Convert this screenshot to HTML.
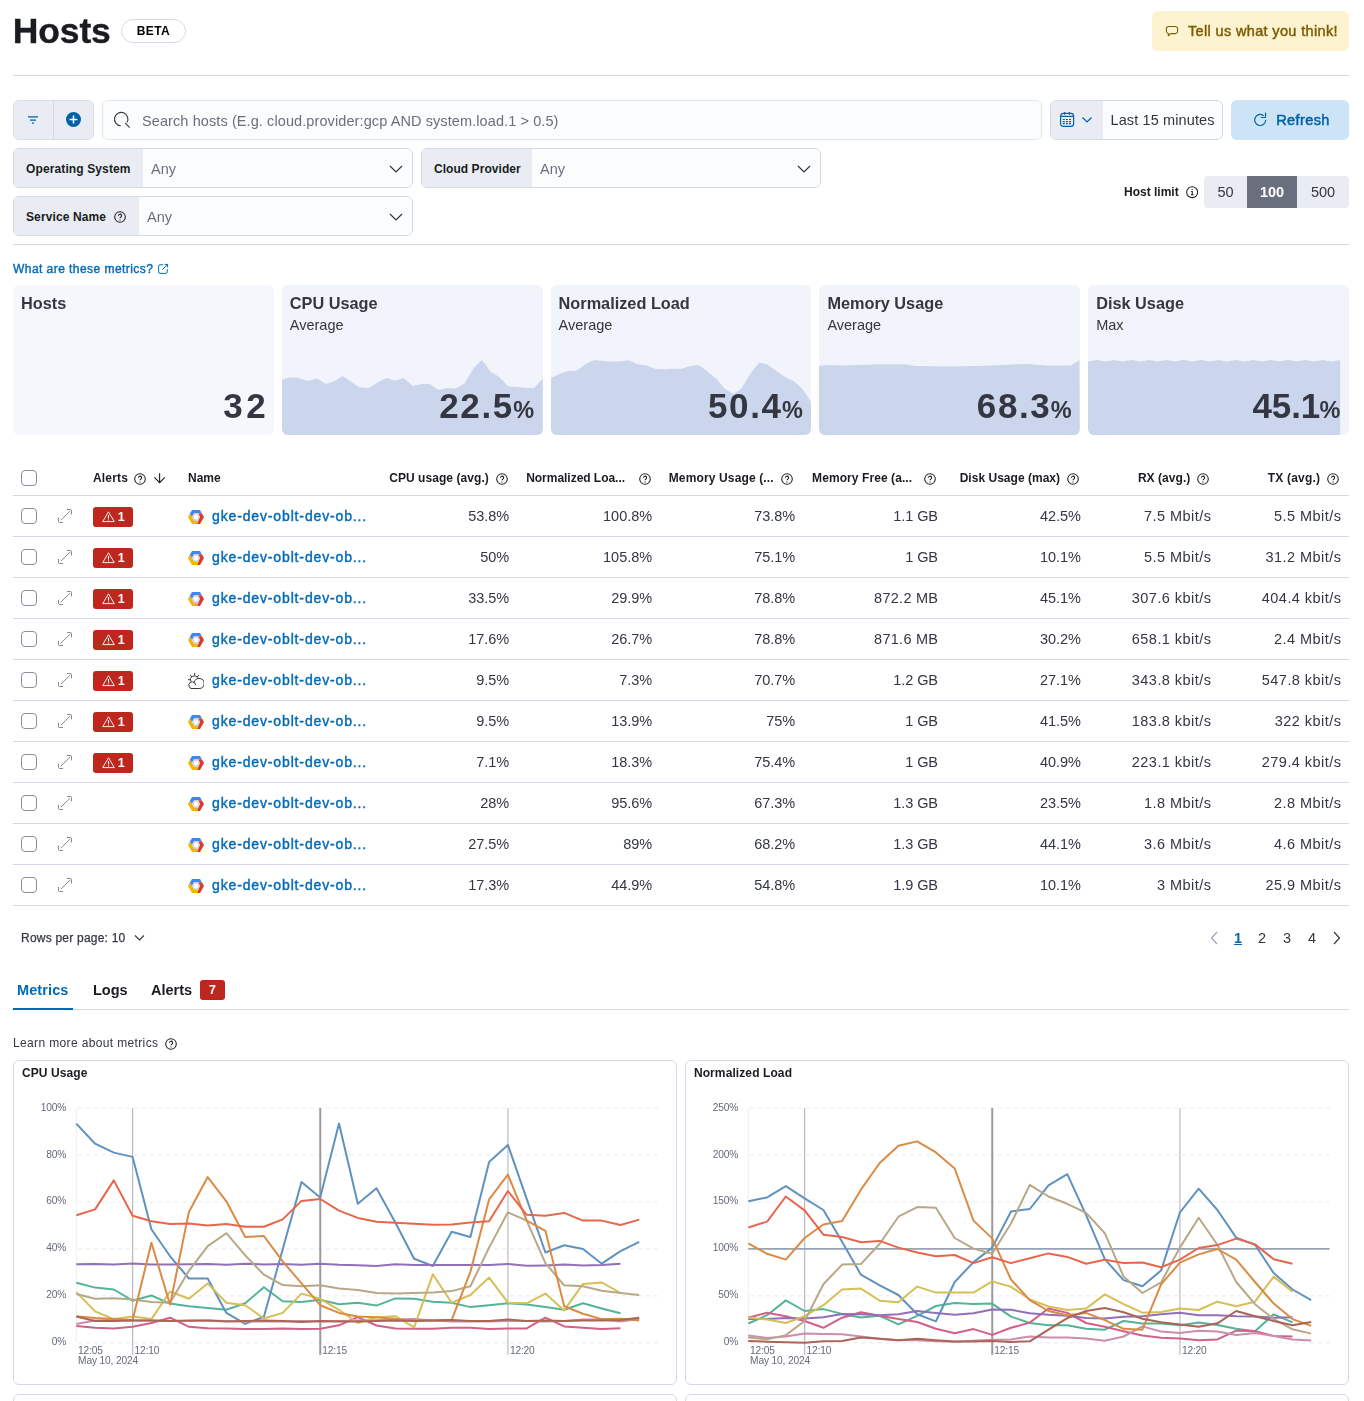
<!DOCTYPE html>
<html lang="en">
<head>
<meta charset="utf-8">
<title>Hosts</title>
<style>
*{box-sizing:border-box;margin:0;padding:0}
html,body{width:1364px;height:1401px;overflow:hidden;background:#fff}
body{font-family:"Liberation Sans",sans-serif;color:#343741;font-size:14px;position:relative}
.abs{position:absolute}
.b{font-weight:700}
svg{display:block}
.hr{position:absolute;left:13px;width:1336px;height:1px;background:#d3dae6}
/* header */
#title{left:12.8px;top:8px;font-size:35.5px;font-weight:700;color:#1a1c21;-webkit-text-stroke:.35px #1a1c21;line-height:46px;letter-spacing:-.15px}
#beta{left:121px;top:19px;width:65px;height:24px;border:1px solid #d3dae6;border-radius:12px;font-size:12px;font-weight:700;color:#000;text-align:center;line-height:22px;letter-spacing:.4px}
#feedback{left:1152px;top:11px;width:197px;height:40px;border-radius:6px;background:#fef3d0;color:#7a5d00;font-size:14.5px;font-weight:400;-webkit-text-stroke:.45px #7a5d00;letter-spacing:.35px;line-height:40px}
/* search row */
.ctl{position:absolute;height:40px;border-radius:6px}
#filt{left:13px;top:100px;width:81px;background:#e9edf3;border:1px solid #d9dfea}
#filt i{position:absolute;left:39px;top:0;width:1px;height:38px;background:#d3dae6}
#search{left:102px;top:100px;width:939.5px;background:#fbfcfd;border:1px solid #dfe4ee;color:#69707d;font-size:14.5px;line-height:40px;letter-spacing:.095px}
#date{left:1050px;top:100px;width:172.5px;background:#fbfcfd;border:1px solid #d3dae6;overflow:hidden}
#date .q{position:absolute;left:0;top:0;width:52px;height:38px;background:#e9edf3}
#date .t{position:absolute;left:59.5px;top:0;line-height:38px;font-size:14.5px;color:#343741;white-space:nowrap;letter-spacing:.12px}
#refresh{left:1231px;top:100px;width:118px;background:#cce4f5;color:#0061a6;font-size:14.5px;font-weight:400;-webkit-text-stroke:.5px #0061a6;letter-spacing:.4px;line-height:40px}
/* controls */
.sel{position:absolute;height:40px;border:1px solid #d3dae6;border-radius:6px;background:#fbfcfd;overflow:hidden}
.sel .l{position:absolute;left:0;top:0;height:38px;background:#e9edf3;font-size:12px;font-weight:700;color:#1a1c21;line-height:40px;padding-left:12px;white-space:nowrap;letter-spacing:.12px}
.sel .v{position:absolute;top:1px;line-height:38px;font-size:14.5px;color:#69707d}
.sel svg{position:absolute;right:9px;top:13px}
/* host limit */
#hl{left:1124px;top:184px;font-size:12px;font-weight:700;color:#1a1c21;line-height:16px}
#hlg{left:1204px;top:176px;width:145px;height:32px;border-radius:4px;background:#e9edf3;overflow:hidden;font-size:14.5px;line-height:32px;text-align:center;color:#343741}
#hlg div{position:absolute;top:0;height:32px}
/* cards */
.card{position:absolute;top:285px;width:260.8px;height:150px;border-radius:6px;background:#f1f4fa;overflow:hidden}
.card .ti{position:absolute;left:8px;top:7.6px;font-size:16.3px;font-weight:700;color:#343741;line-height:20px;white-space:nowrap}
.card .st{position:absolute;left:8px;top:31px;font-size:14.5px;color:#343741;line-height:18px}
.card .val{position:absolute;right:8.5px;top:100.8px;font-size:35px;font-weight:700;color:#343741;line-height:40px;white-space:nowrap;letter-spacing:1.6px}
.card .val small{font-size:23.5px;letter-spacing:0;margin-left:-.6px}
.card svg{position:absolute;left:0;top:0}
</style>
</head>
<body><div id="wrap" style="opacity:.999;position:absolute;left:0;top:0;width:1364px;height:1401px">
<div id="title" class="abs">Hosts</div>
<div id="beta" class="abs">BETA</div>
<div id="feedback" class="abs">
<svg class="abs" style="left:13.2px;top:13px" width="14" height="14" viewBox="0 0 16 16" fill="none" stroke="#7a5d00" stroke-width="1.25" stroke-linejoin="round"><path d="M4.2 2.8h7.6a2.6 2.6 0 0 1 2.6 2.6v3a2.6 2.6 0 0 1-2.6 2.6H6.4L3.8 13.4V10.9A2.600 2.600 0 0 1 1.600 8.400v-3A2.600 2.600 0 0 1 4.200 2.800z"/></svg>
<span class="abs" style="left:36px;top:0;white-space:nowrap">Tell us what you think!</span></div>
<div class="hr" style="top:75px"></div>

<div id="filt" class="ctl"><i></i>
<svg class="abs" style="left:13px;top:13.4px" width="12" height="12" viewBox="0 0 12 12" fill="none" stroke="#0061a6" stroke-width="1.25"><path d="M1 2.8h10M3 6h6M4.9 9.2h2.2"/></svg>
<svg class="abs" style="left:52px;top:10.8px" width="15" height="15" viewBox="0 0 15 15"><circle cx="7.5" cy="7.5" r="7.5" fill="#0061a6"/><path d="M7.5 3.6v7.8M3.6 7.5h7.8" stroke="#fff" stroke-width="1.5"/></svg>
</div>
<div id="search" class="ctl">
<svg class="abs" style="left:10px;top:10px" width="18" height="18" viewBox="0 0 18 18" fill="none" stroke="#343741" stroke-width="1.1"><path d="M7.73 14.78A6.7 6.7 0 1 1 14 11.45M12.2 11.85L16.6 16.57"/></svg>
<span class="abs" style="left:39px;top:0;white-space:nowrap">Search hosts (E.g. cloud.provider:gcp AND system.load.1 &gt; 0.5)</span></div>
<div id="date" class="ctl"><div class="q"></div>
<svg class="abs" style="left:8px;top:10px" width="16" height="17" viewBox="0 0 16 17" fill="none" stroke="#0061a6" stroke-width="1.2"><rect x="1.6" y="2.3" width="13" height="13.1" rx="2.6"/><path d="M1.6 5.4h13M5.5 .9v2.9M10.5 .9v2.9"/><path stroke-width="1.1" d="M3.800 8.500h2M6.900 8.500h2M10 8.500h2M3.800 10.600h2M6.900 10.600h2M10 10.600h2M3.800 12.600h2M6.900 12.600h2M10 12.600h2"/></svg>
<svg class="abs" style="left:30px;top:14.600px" width="12" height="8" viewBox="0 0 12 8" fill="none" stroke="#0061a6" stroke-width="1.200"><path d="M1.5 1.5L6 6l4.5-4.5"/></svg>
<div class="t">Last 15 minutes</div></div>
<div id="refresh" class="ctl">
<svg class="abs" style="left:22px;top:12px" width="16" height="16" viewBox="0 0 16 16" fill="none" stroke="#0061a6" stroke-width="1.2"><path d="M10.3 3.45A5.5 5.5 0 1 0 12.63 8.43" stroke-linecap="round"/><path d="M12.55 1.1V4.5a1 1 0 0 1-1 1H8.3" stroke-linecap="round"/></svg>
<span class="abs" style="left:45.2px;top:0">Refresh</span></div>

<div class="sel" style="left:13px;top:148px;width:400px"><div class="l" style="width:129px">Operating System</div><div class="v" style="left:137px">Any</div>
<svg width="14" height="14" viewBox="0 0 14 14" fill="none" stroke="#343741" stroke-width="1.2"><path d="M1 4l6 6 6-6"/></svg></div>
<div class="sel" style="left:421px;top:148px;width:400px"><div class="l" style="width:110px;letter-spacing:.05px">Cloud Provider</div><div class="v" style="left:118px">Any</div>
<svg width="14" height="14" viewBox="0 0 14 14" fill="none" stroke="#343741" stroke-width="1.2"><path d="M1 4l6 6 6-6"/></svg></div>
<div class="sel" style="left:13px;top:196px;width:400px"><div class="l" style="width:125px">Service Name
<svg style="position:absolute;left:99.5px;top:14px;right:auto" width="12" height="12" viewBox="0 0 12 12" fill="none" stroke="#1a1c21" stroke-width="1.050"><circle cx="6" cy="6" r="5.3"/><path d="M4.4 4.8a1.6 1.6 0 1 1 2.3 1.4c-.5.3-.7.6-.7 1.1M6 8.6v.9"/></svg></div><div class="v" style="left:133px">Any</div>
<svg width="14" height="14" viewBox="0 0 14 14" fill="none" stroke="#343741" stroke-width="1.2"><path d="M1 4l6 6 6-6"/></svg></div>

<div id="hl" class="abs">Host limit</div>
<svg class="abs" style="left:1185.7px;top:186.3px" width="12.3" height="12.3" viewBox="0 0 13 13" fill="none" stroke="#1a1c21" stroke-width="1.100"><circle cx="6.5" cy="6.5" r="5.8"/><path d="M6.5 3.2v1.1M5.4 5.8h1.2v3.4M5.2 9.3h2.8" /></svg>
<div id="hlg" class="abs"><div style="left:0;width:43px">50</div><div style="left:43px;width:50px;background:#69707d;color:#fff;font-weight:700">100</div><div style="left:93px;width:52px">500</div></div>
<div class="hr" style="top:244px"></div>

<div class="abs" style="left:13px;top:261px;font-size:12px;font-weight:400;-webkit-text-stroke:.4px #006bb8;letter-spacing:.45px;color:#006bb8;line-height:16px;white-space:nowrap">What are these metrics?</div>
<svg class="abs" style="left:157px;top:263px" width="12" height="12" viewBox="0 0 12 12" fill="none" stroke="#006bb8" stroke-width="1"><path d="M6.2 1.8H3a1.4 1.4 0 0 0-1.4 1.4v5.8A1.4 1.4 0 0 0 3 10.400h5.800a1.4 1.4 0 0 0 1.4-1.4V6"/><path d="M5.400 6.600L10.400 1.600M7.600 1.400h3v3"/></svg>

<div class="card" style="left:13.0px;background:#f5f7fc"><div class="ti">Hosts</div><div class="st"></div><div class="val" style="letter-spacing:3.6px;right:4.4px">32</div></div>
<div class="card" style="left:281.8px"><svg width="261" height="150" viewBox="0 0 261 150"><path d="M0 150 L0.0 94.5 L8.0 92.5 L14.0 92.5 L25.9 96.1 L34.9 93.5 L43.9 98.9 L51.8 96.5 L60.4 91.1 L77.8 102.5 L86.7 102.9 L95.7 97.5 L104.7 92.9 L113.7 95.5 L121.6 92.9 L130.6 100.9 L139.6 98.9 L147.6 98.9 L156.5 104.9 L165.5 102.9 L173.5 103.5 L182.5 98.5 L191.4 83.5 L199.8 75.0 L208.4 86.5 L217.3 92.1 L226.3 101.5 L235.3 102.1 L243.3 103.1 L252.2 102.9 L260.8 93.5 L260.8 150 Z" fill="#cbd5ec"/></svg><div class="ti">CPU Usage</div><div class="st">Average</div><div class="val">22.5<small>%</small></div></div>
<div class="card" style="left:550.6px"><svg width="261" height="150" viewBox="0 0 261 150"><path d="M0 150 L0.0 92.9 L9.0 88.5 L16.9 85.9 L25.9 85.5 L33.9 79.6 L42.9 75.0 L51.8 76.0 L60.8 76.8 L68.8 76.6 L77.8 75.2 L86.7 79.2 L95.7 80.6 L104.7 83.9 L113.7 84.3 L121.6 83.7 L130.6 83.7 L139.6 81.0 L147.6 80.0 L156.5 86.5 L165.5 94.1 L173.5 103.5 L182.5 108.9 L190.4 103.5 L199.4 88.5 L208.4 77.6 L216.4 79.6 L225.3 86.1 L234.3 91.9 L243.3 96.5 L251.2 103.5 L259.8 116.5 L260.8 150 Z" fill="#cbd5ec"/></svg><div class="ti">Normalized Load</div><div class="st">Average</div><div class="val">50.4<small>%</small></div></div>
<div class="card" style="left:819.4px"><svg width="261" height="150" viewBox="0 0 261 150"><path d="M0 150 L0.0 81.0 L8.6 80.0 L24.5 80.6 L60.4 79.2 L86.3 79.2 L96.3 81.0 L130.2 81.4 L166.1 80.8 L194.0 79.4 L210.0 79.0 L225.9 80.6 L251.8 80.6 L260.4 75.0 L260.8 150 Z" fill="#cbd5ec"/></svg><div class="ti">Memory Usage</div><div class="st">Average</div><div class="val">68.3<small>%</small></div></div>
<div class="card" style="left:1088.2px"><svg width="261" height="150" viewBox="0 0 261 150"><path d="M0 150 L0.0 76.6 L8.7 75.0 L17.4 76.6 L26.1 75.0 L34.8 76.6 L43.5 75.0 L52.2 76.6 L60.9 75.0 L69.6 76.6 L78.3 75.0 L87.0 76.6 L95.7 75.0 L104.4 76.6 L113.1 75.0 L121.8 76.6 L130.4 75.0 L139.1 76.6 L147.8 75.0 L156.5 76.6 L165.2 75.0 L173.9 76.6 L182.6 75.0 L191.3 76.6 L200.0 75.0 L208.7 76.6 L217.4 75.0 L226.1 76.6 L234.8 75.0 L243.5 76.6 L252.2 75.0 L252.2 150 Z" fill="#cbd5ec"/></svg><div class="ti">Disk Usage</div><div class="st">Max</div><div class="val" style="letter-spacing:-.1px">45.1<small>%</small></div></div>
<style>.cb{position:absolute;left:21px;width:16px;height:16px;border:1px solid #8a8f9b;border-radius:4px;background:#fff}.th{position:absolute;top:470px;font-size:12px;font-weight:700;color:#1a1c21;line-height:16px;white-space:nowrap}.td{position:absolute;font-size:14.500px;color:#343741;line-height:20px;white-space:nowrap;text-align:right}.nm{position:absolute;left:212px;font-size:14px;font-weight:400;color:#006bb8;-webkit-text-stroke:.42px #006bb8;line-height:20px;white-space:nowrap;letter-spacing:.86px;margin-top:.1px}.alert{left:93px;width:40px;height:20px;border-radius:3px;background:#bd271e;color:#fff}.alert span{position:absolute;left:24.800px;top:0;font-size:12.500px;font-weight:700;line-height:20px}.rl{position:absolute;left:13px;width:1336px;height:1px;background:#d3dae6}</style>
<div class="cb" style="top:470px"></div>
<div class="th" style="left:93px;letter-spacing:.18px">Alerts</div>
<svg class="abs" style="left:134px;top:473px" width="12" height="12" viewBox="0 0 12 12" fill="none" stroke="#1a1c21" stroke-width="1.050"><circle cx="6" cy="6" r="5.300"/><path d="M4.400 4.800a1.600 1.600 0 1 1 2.300 1.400c-.5.300-.7.600-.7 1.100M6 8.600v.900"/></svg>
<svg class="abs" style="left:153px;top:472px" width="13" height="13" viewBox="0 0 13 13" fill="none" stroke="#1a1c21" stroke-width="1.100"><path d="M6.600 1.200v9.400M1.400 5.400l5.200 5.200 5.200-5.200"/></svg>
<div class="th" style="left:188px">Name</div>
<svg class="abs" style="left:495.5px;top:473px" width="12" height="12" viewBox="0 0 12 12" fill="none" stroke="#1a1c21" stroke-width="1.050"><circle cx="6" cy="6" r="5.300"/><path d="M4.400 4.800a1.600 1.600 0 1 1 2.300 1.400c-.5.300-.7.600-.7 1.100M6 8.600v.900"/></svg>
<div class="th" style="left:389.2px;letter-spacing:0.06px">CPU usage (avg.)</div>
<svg class="abs" style="left:638.5px;top:473px" width="12" height="12" viewBox="0 0 12 12" fill="none" stroke="#1a1c21" stroke-width="1.050"><circle cx="6" cy="6" r="5.300"/><path d="M4.400 4.800a1.600 1.600 0 1 1 2.300 1.400c-.5.300-.7.600-.7 1.100M6 8.600v.900"/></svg>
<div class="th" style="left:526.2px;letter-spacing:-0.03px">Normalized Loa...</div>
<svg class="abs" style="left:781.0px;top:473px" width="12" height="12" viewBox="0 0 12 12" fill="none" stroke="#1a1c21" stroke-width="1.050"><circle cx="6" cy="6" r="5.300"/><path d="M4.400 4.800a1.600 1.600 0 1 1 2.300 1.400c-.5.300-.7.600-.7 1.100M6 8.600v.900"/></svg>
<div class="th" style="left:668.7px;letter-spacing:0.14px">Memory Usage (...</div>
<svg class="abs" style="left:923.8px;top:473px" width="12" height="12" viewBox="0 0 12 12" fill="none" stroke="#1a1c21" stroke-width="1.050"><circle cx="6" cy="6" r="5.300"/><path d="M4.400 4.800a1.600 1.600 0 1 1 2.300 1.400c-.5.300-.7.600-.7 1.100M6 8.600v.900"/></svg>
<div class="th" style="left:812.1px;letter-spacing:0.08px">Memory Free (a...</div>
<svg class="abs" style="left:1067.4px;top:473px" width="12" height="12" viewBox="0 0 12 12" fill="none" stroke="#1a1c21" stroke-width="1.050"><circle cx="6" cy="6" r="5.300"/><path d="M4.400 4.800a1.600 1.600 0 1 1 2.300 1.400c-.5.300-.7.600-.7 1.100M6 8.600v.900"/></svg>
<div class="th" style="left:959.7px;letter-spacing:0.02px">Disk Usage (max)</div>
<svg class="abs" style="left:1197.2px;top:473px" width="12" height="12" viewBox="0 0 12 12" fill="none" stroke="#1a1c21" stroke-width="1.050"><circle cx="6" cy="6" r="5.300"/><path d="M4.400 4.800a1.600 1.600 0 1 1 2.300 1.400c-.5.300-.7.600-.7 1.100M6 8.600v.900"/></svg>
<div class="th" style="left:1137.9px;letter-spacing:0.05px">RX (avg.)</div>
<svg class="abs" style="left:1327.0px;top:473px" width="12" height="12" viewBox="0 0 12 12" fill="none" stroke="#1a1c21" stroke-width="1.050"><circle cx="6" cy="6" r="5.300"/><path d="M4.400 4.800a1.600 1.600 0 1 1 2.300 1.400c-.5.300-.7.600-.7 1.100M6 8.600v.900"/></svg>
<div class="th" style="left:1267.7px;letter-spacing:0.20px">TX (avg.)</div>
<div class="rl" style="top:495px"></div>
<div class="cb" style="top:508px"></div>
<svg class="abs" style="left:58px;top:509px" width="14" height="14" viewBox="0 0 14 14" fill="none" stroke="#808389" stroke-width=".95" stroke-linecap="round"><path d="M9.400.500h3.100a1 1 0 0 1 1 1v3.500M11.900 2.300L3 11M.500 9.200v3.300a1 1 0 0 0 1 1h3.100"/></svg>
<div class="abs alert" style="top:507px"><svg class="abs" style="left:8.500px;top:4.200px" width="13" height="11.500" viewBox="0 0 13 11.500" fill="none" stroke="#fff" stroke-width=".9" stroke-linejoin="round"><path d="M6.500.800L12.300 10.600H.700z"/><path d="M6.500 4v3.600M6.500 8.500v1" stroke-width="1.100"/></svg><span>1</span></div>
<svg class="abs" style="left:188px;top:510px" width="16" height="14" viewBox="0 0 16 14"><path d="M1.8 3.8L4 0h8l1.8 3.2-3.4.4H6.2L3.8 7z" fill="#4285f4"/><path d="M13.8 3.2L16 7l-4 7H9l2.8-7-1.4-3.4z" fill="#db3a2c"/><path d="M1.8 3.800L0 7l4 7h5l1-3.400H6.200L3.800 7z" fill="#f5b400"/><path d="M3.900 7l2.100-4.100h4L12.100 7l-2.100 4.100H6z" fill="#cfd2d6"/><circle cx="8" cy="7" r="2.400" fill="#fff"/></svg>
<div class="nm" style="top:506px">gke-dev-oblt-dev-ob...</div>
<div class="td" style="top:506.4px;right:855.0px;letter-spacing:-0.05px">53.8%</div>
<div class="td" style="top:506.4px;right:712.0px;letter-spacing:-0.05px">100.8%</div>
<div class="td" style="top:506.4px;right:569.0px;letter-spacing:-0.05px">73.8%</div>
<div class="td" style="top:506.4px;right:426.1px;letter-spacing:-0.10px">1.1 GB</div>
<div class="td" style="top:506.4px;right:283.1px;letter-spacing:-0.05px">42.5%</div>
<div class="td" style="top:506.4px;right:152.6px;letter-spacing:0.45px">7.5 Mbit/s</div>
<div class="td" style="top:506.4px;right:22.6px;letter-spacing:0.45px">5.5 Mbit/s</div>
<div class="rl" style="top:536px"></div>
<div class="cb" style="top:549px"></div>
<svg class="abs" style="left:58px;top:550px" width="14" height="14" viewBox="0 0 14 14" fill="none" stroke="#808389" stroke-width=".95" stroke-linecap="round"><path d="M9.400.500h3.100a1 1 0 0 1 1 1v3.500M11.900 2.300L3 11M.500 9.200v3.300a1 1 0 0 0 1 1h3.100"/></svg>
<div class="abs alert" style="top:548px"><svg class="abs" style="left:8.500px;top:4.200px" width="13" height="11.500" viewBox="0 0 13 11.500" fill="none" stroke="#fff" stroke-width=".9" stroke-linejoin="round"><path d="M6.500.800L12.300 10.600H.700z"/><path d="M6.500 4v3.600M6.500 8.500v1" stroke-width="1.100"/></svg><span>1</span></div>
<svg class="abs" style="left:188px;top:551px" width="16" height="14" viewBox="0 0 16 14"><path d="M1.8 3.8L4 0h8l1.8 3.2-3.4.4H6.2L3.8 7z" fill="#4285f4"/><path d="M13.8 3.2L16 7l-4 7H9l2.8-7-1.4-3.4z" fill="#db3a2c"/><path d="M1.8 3.800L0 7l4 7h5l1-3.400H6.200L3.800 7z" fill="#f5b400"/><path d="M3.900 7l2.100-4.100h4L12.100 7l-2.100 4.100H6z" fill="#cfd2d6"/><circle cx="8" cy="7" r="2.400" fill="#fff"/></svg>
<div class="nm" style="top:547px">gke-dev-oblt-dev-ob...</div>
<div class="td" style="top:547.4px;right:855.0px;letter-spacing:-0.05px">50%</div>
<div class="td" style="top:547.4px;right:712.0px;letter-spacing:-0.05px">105.8%</div>
<div class="td" style="top:547.4px;right:569.0px;letter-spacing:-0.05px">75.1%</div>
<div class="td" style="top:547.4px;right:426.1px;letter-spacing:-0.10px">1 GB</div>
<div class="td" style="top:547.4px;right:283.1px;letter-spacing:-0.05px">10.1%</div>
<div class="td" style="top:547.4px;right:152.6px;letter-spacing:0.45px">5.5 Mbit/s</div>
<div class="td" style="top:547.4px;right:22.6px;letter-spacing:0.45px">31.2 Mbit/s</div>
<div class="rl" style="top:577px"></div>
<div class="cb" style="top:590px"></div>
<svg class="abs" style="left:58px;top:591px" width="14" height="14" viewBox="0 0 14 14" fill="none" stroke="#808389" stroke-width=".95" stroke-linecap="round"><path d="M9.400.500h3.100a1 1 0 0 1 1 1v3.500M11.900 2.300L3 11M.500 9.200v3.300a1 1 0 0 0 1 1h3.100"/></svg>
<div class="abs alert" style="top:589px"><svg class="abs" style="left:8.500px;top:4.200px" width="13" height="11.500" viewBox="0 0 13 11.500" fill="none" stroke="#fff" stroke-width=".9" stroke-linejoin="round"><path d="M6.500.800L12.300 10.600H.700z"/><path d="M6.500 4v3.600M6.500 8.500v1" stroke-width="1.100"/></svg><span>1</span></div>
<svg class="abs" style="left:188px;top:592px" width="16" height="14" viewBox="0 0 16 14"><path d="M1.8 3.8L4 0h8l1.8 3.2-3.4.4H6.2L3.8 7z" fill="#4285f4"/><path d="M13.8 3.2L16 7l-4 7H9l2.8-7-1.4-3.4z" fill="#db3a2c"/><path d="M1.8 3.800L0 7l4 7h5l1-3.400H6.200L3.800 7z" fill="#f5b400"/><path d="M3.900 7l2.100-4.100h4L12.100 7l-2.100 4.100H6z" fill="#cfd2d6"/><circle cx="8" cy="7" r="2.400" fill="#fff"/></svg>
<div class="nm" style="top:588px">gke-dev-oblt-dev-ob...</div>
<div class="td" style="top:588.4px;right:855.0px;letter-spacing:-0.05px">33.5%</div>
<div class="td" style="top:588.4px;right:712.0px;letter-spacing:-0.05px">29.9%</div>
<div class="td" style="top:588.4px;right:569.0px;letter-spacing:-0.05px">78.8%</div>
<div class="td" style="top:588.4px;right:425.7px;letter-spacing:0.27px">872.2 MB</div>
<div class="td" style="top:588.4px;right:283.1px;letter-spacing:-0.05px">45.1%</div>
<div class="td" style="top:588.4px;right:152.6px;letter-spacing:0.45px">307.6 kbit/s</div>
<div class="td" style="top:588.4px;right:22.6px;letter-spacing:0.45px">404.4 kbit/s</div>
<div class="rl" style="top:618px"></div>
<div class="cb" style="top:631px"></div>
<svg class="abs" style="left:58px;top:632px" width="14" height="14" viewBox="0 0 14 14" fill="none" stroke="#808389" stroke-width=".95" stroke-linecap="round"><path d="M9.400.500h3.100a1 1 0 0 1 1 1v3.500M11.900 2.300L3 11M.500 9.200v3.300a1 1 0 0 0 1 1h3.100"/></svg>
<div class="abs alert" style="top:630px"><svg class="abs" style="left:8.500px;top:4.200px" width="13" height="11.500" viewBox="0 0 13 11.500" fill="none" stroke="#fff" stroke-width=".9" stroke-linejoin="round"><path d="M6.500.800L12.300 10.600H.700z"/><path d="M6.500 4v3.600M6.500 8.500v1" stroke-width="1.100"/></svg><span>1</span></div>
<svg class="abs" style="left:188px;top:633px" width="16" height="14" viewBox="0 0 16 14"><path d="M1.8 3.8L4 0h8l1.8 3.2-3.4.4H6.2L3.8 7z" fill="#4285f4"/><path d="M13.8 3.2L16 7l-4 7H9l2.8-7-1.4-3.4z" fill="#db3a2c"/><path d="M1.8 3.800L0 7l4 7h5l1-3.400H6.200L3.800 7z" fill="#f5b400"/><path d="M3.900 7l2.100-4.100h4L12.100 7l-2.100 4.100H6z" fill="#cfd2d6"/><circle cx="8" cy="7" r="2.400" fill="#fff"/></svg>
<div class="nm" style="top:629px">gke-dev-oblt-dev-ob...</div>
<div class="td" style="top:629.4px;right:855.0px;letter-spacing:-0.05px">17.6%</div>
<div class="td" style="top:629.4px;right:712.0px;letter-spacing:-0.05px">26.7%</div>
<div class="td" style="top:629.4px;right:569.0px;letter-spacing:-0.05px">78.8%</div>
<div class="td" style="top:629.4px;right:425.7px;letter-spacing:0.27px">871.6 MB</div>
<div class="td" style="top:629.4px;right:283.1px;letter-spacing:-0.05px">30.2%</div>
<div class="td" style="top:629.4px;right:152.6px;letter-spacing:0.45px">658.1 kbit/s</div>
<div class="td" style="top:629.4px;right:22.6px;letter-spacing:0.45px">2.4 Mbit/s</div>
<div class="rl" style="top:659px"></div>
<div class="cb" style="top:672px"></div>
<svg class="abs" style="left:58px;top:673px" width="14" height="14" viewBox="0 0 14 14" fill="none" stroke="#808389" stroke-width=".95" stroke-linecap="round"><path d="M9.400.500h3.100a1 1 0 0 1 1 1v3.500M11.900 2.300L3 11M.500 9.200v3.300a1 1 0 0 0 1 1h3.100"/></svg>
<div class="abs alert" style="top:671px"><svg class="abs" style="left:8.500px;top:4.200px" width="13" height="11.500" viewBox="0 0 13 11.500" fill="none" stroke="#fff" stroke-width=".9" stroke-linejoin="round"><path d="M6.500.800L12.300 10.600H.700z"/><path d="M6.500 4v3.600M6.500 8.500v1" stroke-width="1.100"/></svg><span>1</span></div>
<svg class="abs" style="left:188px;top:673px" width="16" height="16" viewBox="0 0 16 16" fill="none" stroke="#343741" stroke-width="1" stroke-linecap="round"><path d="M3.1 15.500h8.100a5.050 5.050 0 1 0-4.950-6.500"/><path d="M3.100 15.500a3.450 3.450 0 1 1 4.500-3.800"/><path d="M2.900 8.300a3.600 3.600 0 0 1 6.900-3.300"/><path d="M6.600.5v1.500M2.400 2.200l1.200 1.500M10.800 2.500L9.400 3.700M.4 6.700h1.900"/></svg>
<div class="nm" style="top:670px">gke-dev-oblt-dev-ob...</div>
<div class="td" style="top:670.4px;right:855.0px;letter-spacing:-0.05px">9.5%</div>
<div class="td" style="top:670.4px;right:712.0px;letter-spacing:-0.05px">7.3%</div>
<div class="td" style="top:670.4px;right:569.0px;letter-spacing:-0.05px">70.7%</div>
<div class="td" style="top:670.4px;right:426.1px;letter-spacing:-0.10px">1.2 GB</div>
<div class="td" style="top:670.4px;right:283.1px;letter-spacing:-0.05px">27.1%</div>
<div class="td" style="top:670.4px;right:152.6px;letter-spacing:0.45px">343.8 kbit/s</div>
<div class="td" style="top:670.4px;right:22.6px;letter-spacing:0.45px">547.8 kbit/s</div>
<div class="rl" style="top:700px"></div>
<div class="cb" style="top:713px"></div>
<svg class="abs" style="left:58px;top:714px" width="14" height="14" viewBox="0 0 14 14" fill="none" stroke="#808389" stroke-width=".95" stroke-linecap="round"><path d="M9.400.500h3.100a1 1 0 0 1 1 1v3.500M11.900 2.300L3 11M.500 9.200v3.300a1 1 0 0 0 1 1h3.100"/></svg>
<div class="abs alert" style="top:712px"><svg class="abs" style="left:8.500px;top:4.200px" width="13" height="11.500" viewBox="0 0 13 11.500" fill="none" stroke="#fff" stroke-width=".9" stroke-linejoin="round"><path d="M6.500.800L12.300 10.600H.700z"/><path d="M6.500 4v3.600M6.500 8.500v1" stroke-width="1.100"/></svg><span>1</span></div>
<svg class="abs" style="left:188px;top:715px" width="16" height="14" viewBox="0 0 16 14"><path d="M1.8 3.8L4 0h8l1.8 3.2-3.4.4H6.2L3.8 7z" fill="#4285f4"/><path d="M13.8 3.2L16 7l-4 7H9l2.8-7-1.4-3.4z" fill="#db3a2c"/><path d="M1.8 3.800L0 7l4 7h5l1-3.400H6.200L3.800 7z" fill="#f5b400"/><path d="M3.900 7l2.100-4.100h4L12.100 7l-2.100 4.100H6z" fill="#cfd2d6"/><circle cx="8" cy="7" r="2.400" fill="#fff"/></svg>
<div class="nm" style="top:711px">gke-dev-oblt-dev-ob...</div>
<div class="td" style="top:711.4px;right:855.0px;letter-spacing:-0.05px">9.5%</div>
<div class="td" style="top:711.4px;right:712.0px;letter-spacing:-0.05px">13.9%</div>
<div class="td" style="top:711.4px;right:569.0px;letter-spacing:-0.05px">75%</div>
<div class="td" style="top:711.4px;right:426.1px;letter-spacing:-0.10px">1 GB</div>
<div class="td" style="top:711.4px;right:283.1px;letter-spacing:-0.05px">41.5%</div>
<div class="td" style="top:711.4px;right:152.6px;letter-spacing:0.45px">183.8 kbit/s</div>
<div class="td" style="top:711.4px;right:22.6px;letter-spacing:0.45px">322 kbit/s</div>
<div class="rl" style="top:741px"></div>
<div class="cb" style="top:754px"></div>
<svg class="abs" style="left:58px;top:755px" width="14" height="14" viewBox="0 0 14 14" fill="none" stroke="#808389" stroke-width=".95" stroke-linecap="round"><path d="M9.400.500h3.100a1 1 0 0 1 1 1v3.500M11.900 2.300L3 11M.500 9.200v3.300a1 1 0 0 0 1 1h3.100"/></svg>
<div class="abs alert" style="top:753px"><svg class="abs" style="left:8.500px;top:4.200px" width="13" height="11.500" viewBox="0 0 13 11.500" fill="none" stroke="#fff" stroke-width=".9" stroke-linejoin="round"><path d="M6.500.800L12.300 10.600H.700z"/><path d="M6.500 4v3.600M6.500 8.500v1" stroke-width="1.100"/></svg><span>1</span></div>
<svg class="abs" style="left:188px;top:756px" width="16" height="14" viewBox="0 0 16 14"><path d="M1.8 3.8L4 0h8l1.8 3.2-3.4.4H6.2L3.8 7z" fill="#4285f4"/><path d="M13.8 3.2L16 7l-4 7H9l2.8-7-1.4-3.4z" fill="#db3a2c"/><path d="M1.8 3.800L0 7l4 7h5l1-3.400H6.200L3.800 7z" fill="#f5b400"/><path d="M3.900 7l2.100-4.100h4L12.100 7l-2.100 4.100H6z" fill="#cfd2d6"/><circle cx="8" cy="7" r="2.400" fill="#fff"/></svg>
<div class="nm" style="top:752px">gke-dev-oblt-dev-ob...</div>
<div class="td" style="top:752.4px;right:855.0px;letter-spacing:-0.05px">7.1%</div>
<div class="td" style="top:752.4px;right:712.0px;letter-spacing:-0.05px">18.3%</div>
<div class="td" style="top:752.4px;right:569.0px;letter-spacing:-0.05px">75.4%</div>
<div class="td" style="top:752.4px;right:426.1px;letter-spacing:-0.10px">1 GB</div>
<div class="td" style="top:752.4px;right:283.1px;letter-spacing:-0.05px">40.9%</div>
<div class="td" style="top:752.4px;right:152.6px;letter-spacing:0.45px">223.1 kbit/s</div>
<div class="td" style="top:752.4px;right:22.6px;letter-spacing:0.45px">279.4 kbit/s</div>
<div class="rl" style="top:782px"></div>
<div class="cb" style="top:795px"></div>
<svg class="abs" style="left:58px;top:796px" width="14" height="14" viewBox="0 0 14 14" fill="none" stroke="#808389" stroke-width=".95" stroke-linecap="round"><path d="M9.400.500h3.100a1 1 0 0 1 1 1v3.500M11.900 2.300L3 11M.500 9.200v3.300a1 1 0 0 0 1 1h3.100"/></svg>
<svg class="abs" style="left:188px;top:797px" width="16" height="14" viewBox="0 0 16 14"><path d="M1.8 3.8L4 0h8l1.8 3.2-3.4.4H6.2L3.8 7z" fill="#4285f4"/><path d="M13.8 3.2L16 7l-4 7H9l2.8-7-1.4-3.4z" fill="#db3a2c"/><path d="M1.8 3.800L0 7l4 7h5l1-3.400H6.200L3.800 7z" fill="#f5b400"/><path d="M3.900 7l2.100-4.100h4L12.100 7l-2.100 4.100H6z" fill="#cfd2d6"/><circle cx="8" cy="7" r="2.400" fill="#fff"/></svg>
<div class="nm" style="top:793px">gke-dev-oblt-dev-ob...</div>
<div class="td" style="top:793.4px;right:855.0px;letter-spacing:-0.05px">28%</div>
<div class="td" style="top:793.4px;right:712.0px;letter-spacing:-0.05px">95.6%</div>
<div class="td" style="top:793.4px;right:569.0px;letter-spacing:-0.05px">67.3%</div>
<div class="td" style="top:793.4px;right:426.1px;letter-spacing:-0.10px">1.3 GB</div>
<div class="td" style="top:793.4px;right:283.1px;letter-spacing:-0.05px">23.5%</div>
<div class="td" style="top:793.4px;right:152.6px;letter-spacing:0.45px">1.8 Mbit/s</div>
<div class="td" style="top:793.4px;right:22.6px;letter-spacing:0.45px">2.8 Mbit/s</div>
<div class="rl" style="top:823px"></div>
<div class="cb" style="top:836px"></div>
<svg class="abs" style="left:58px;top:837px" width="14" height="14" viewBox="0 0 14 14" fill="none" stroke="#808389" stroke-width=".95" stroke-linecap="round"><path d="M9.400.500h3.100a1 1 0 0 1 1 1v3.500M11.900 2.300L3 11M.500 9.200v3.300a1 1 0 0 0 1 1h3.100"/></svg>
<svg class="abs" style="left:188px;top:838px" width="16" height="14" viewBox="0 0 16 14"><path d="M1.8 3.8L4 0h8l1.8 3.2-3.4.4H6.2L3.8 7z" fill="#4285f4"/><path d="M13.8 3.2L16 7l-4 7H9l2.8-7-1.4-3.4z" fill="#db3a2c"/><path d="M1.8 3.800L0 7l4 7h5l1-3.400H6.200L3.800 7z" fill="#f5b400"/><path d="M3.900 7l2.100-4.100h4L12.100 7l-2.100 4.100H6z" fill="#cfd2d6"/><circle cx="8" cy="7" r="2.400" fill="#fff"/></svg>
<div class="nm" style="top:834px">gke-dev-oblt-dev-ob...</div>
<div class="td" style="top:834.4px;right:855.0px;letter-spacing:-0.05px">27.5%</div>
<div class="td" style="top:834.4px;right:712.0px;letter-spacing:-0.05px">89%</div>
<div class="td" style="top:834.4px;right:569.0px;letter-spacing:-0.05px">68.2%</div>
<div class="td" style="top:834.4px;right:426.1px;letter-spacing:-0.10px">1.3 GB</div>
<div class="td" style="top:834.4px;right:283.1px;letter-spacing:-0.05px">44.1%</div>
<div class="td" style="top:834.4px;right:152.6px;letter-spacing:0.45px">3.6 Mbit/s</div>
<div class="td" style="top:834.4px;right:22.6px;letter-spacing:0.45px">4.6 Mbit/s</div>
<div class="rl" style="top:864px"></div>
<div class="cb" style="top:877px"></div>
<svg class="abs" style="left:58px;top:878px" width="14" height="14" viewBox="0 0 14 14" fill="none" stroke="#808389" stroke-width=".95" stroke-linecap="round"><path d="M9.400.500h3.100a1 1 0 0 1 1 1v3.500M11.900 2.300L3 11M.500 9.200v3.300a1 1 0 0 0 1 1h3.100"/></svg>
<svg class="abs" style="left:188px;top:879px" width="16" height="14" viewBox="0 0 16 14"><path d="M1.8 3.8L4 0h8l1.8 3.2-3.4.4H6.2L3.8 7z" fill="#4285f4"/><path d="M13.8 3.2L16 7l-4 7H9l2.8-7-1.4-3.4z" fill="#db3a2c"/><path d="M1.8 3.800L0 7l4 7h5l1-3.400H6.200L3.800 7z" fill="#f5b400"/><path d="M3.900 7l2.100-4.100h4L12.100 7l-2.100 4.100H6z" fill="#cfd2d6"/><circle cx="8" cy="7" r="2.400" fill="#fff"/></svg>
<div class="nm" style="top:875px">gke-dev-oblt-dev-ob...</div>
<div class="td" style="top:875.4px;right:855.0px;letter-spacing:-0.05px">17.3%</div>
<div class="td" style="top:875.4px;right:712.0px;letter-spacing:-0.05px">44.9%</div>
<div class="td" style="top:875.4px;right:569.0px;letter-spacing:-0.05px">54.8%</div>
<div class="td" style="top:875.4px;right:426.1px;letter-spacing:-0.10px">1.9 GB</div>
<div class="td" style="top:875.4px;right:283.1px;letter-spacing:-0.05px">10.1%</div>
<div class="td" style="top:875.4px;right:152.6px;letter-spacing:0.45px">3 Mbit/s</div>
<div class="td" style="top:875.4px;right:22.6px;letter-spacing:0.45px">25.9 Mbit/s</div>
<div class="rl" style="top:905px"></div>
<div class="abs" style="left:21px;top:930px;font-size:12px;color:#343741;line-height:16px;font-weight:400;-webkit-text-stroke:.25px #343741;letter-spacing:.22px">Rows per page: 10</div>
<svg class="abs" style="left:134px;top:934px" width="11" height="8" viewBox="0 0 11 8" fill="none" stroke="#343741" stroke-width="1.100"><path d="M1 1.500l4.500 4.500L10 1.500"/></svg>
<svg class="abs" style="left:1210px;top:931px" width="9" height="14" viewBox="0 0 9 14" fill="none" stroke="#98a2b3" stroke-width="1.200"><path d="M7 1L1.500 7 7 13"/></svg>
<svg class="abs" style="left:1332px;top:931px" width="9" height="14" viewBox="0 0 9 14" fill="none" stroke="#343741" stroke-width="1.200"><path d="M2 1l5.500 6L2 13"/></svg>
<div class="abs" style="left:1238px;top:928px;width:20px;margin-left:-10px;text-align:center;font-size:14.500px;line-height:20px;font-weight:700;color:#006bb8;text-decoration:underline">1</div>
<div class="abs" style="left:1262px;top:928px;width:20px;margin-left:-10px;text-align:center;font-size:14.500px;line-height:20px;color:#343741">2</div>
<div class="abs" style="left:1287px;top:928px;width:20px;margin-left:-10px;text-align:center;font-size:14.500px;line-height:20px;color:#343741">3</div>
<div class="abs" style="left:1312px;top:928px;width:20px;margin-left:-10px;text-align:center;font-size:14.500px;line-height:20px;color:#343741">4</div>
<div class="abs" style="left:17px;top:980px;font-size:14.500px;font-weight:700;color:#006bb8;line-height:20px;letter-spacing:.1px">Metrics</div>
<div class="abs" style="left:93px;top:980px;font-size:14.500px;font-weight:700;color:#1a1c21;line-height:20px">Logs</div>
<div class="abs" style="left:151px;top:980px;font-size:14.500px;font-weight:700;color:#1a1c21;line-height:20px">Alerts</div>
<div class="abs" style="left:200px;top:980px;width:25px;height:20px;border-radius:3px;background:#bd271e;color:#fff;font-size:12.500px;font-weight:700;line-height:20px;text-align:center">7</div>
<div class="hr" style="top:1009px"></div>
<div class="abs" style="left:13px;top:1008px;width:60px;height:2px;background:#006bb8"></div>
<div class="abs" style="left:13px;top:1035px;font-size:12px;color:#343741;line-height:16px;letter-spacing:.36px">Learn more about metrics</div>
<svg class="abs" style="left:165px;top:1038px" width="12" height="12" viewBox="0 0 12 12" fill="none" stroke="#1a1c21" stroke-width="1.050"><circle cx="6" cy="6" r="5.300"/><path d="M4.400 4.800a1.600 1.600 0 1 1 2.300 1.400c-.5.300-.7.600-.7 1.100M6 8.600v.900"/></svg>
<style>.panel{position:absolute;top:1060px;width:664px;height:325px;border:1px solid #d3dae6;border-radius:6px;background:#fff}.ptitle{position:absolute;top:1065px;font-size:12px;font-weight:700;color:#1a1c21;line-height:16px;white-space:nowrap;letter-spacing:.1px;margin-left:-.5px}.yl{position:absolute;width:53.300px;text-align:right;font-size:10.200px;line-height:12px;color:#646a77;letter-spacing:-.1px}.xl{position:absolute;font-size:10.200px;line-height:12px;color:#646a77;white-space:nowrap;letter-spacing:-.15px}</style>
<div class="panel" style="left:13.0px"></div>
<div class="ptitle" style="left:22.4px">CPU Usage</div>
<svg class="abs" style="left:13.0px;top:1060px" width="664" height="325" viewBox="0 0 664 325"><path d="M64.8 282.85H644.5" stroke="#e6e9f1" stroke-width="1" stroke-dasharray="4 4"/><path d="M64.8 235.88H644.5" stroke="#e6e9f1" stroke-width="1" stroke-dasharray="4 4"/><path d="M64.8 188.91H644.5" stroke="#e6e9f1" stroke-width="1" stroke-dasharray="4 4"/><path d="M64.8 141.94H644.5" stroke="#e6e9f1" stroke-width="1" stroke-dasharray="4 4"/><path d="M64.8 94.97H644.5" stroke="#e6e9f1" stroke-width="1" stroke-dasharray="4 4"/><path d="M64.8 48.00H644.5" stroke="#e6e9f1" stroke-width="1" stroke-dasharray="4 4"/><path d="M63.3 48.0V282.8" stroke="#eceff5" stroke-width="1"/><path d="M119.59 48.0V294.800" stroke="#bdbdbd" stroke-width="1.3"/><path d="M307.25 48.0V294.800" stroke="#9a9a9a" stroke-width="2.0"/><path d="M494.90 48.0V294.800" stroke="#c6c6c6" stroke-width="1.4"/><polyline points="63.3,222.8 82.1,227.6 100.8,229.5 119.6,240.7 138.4,235.5 157.1,243.6 175.9,246.2 194.7,247.9 213.4,249.8 232.2,243.3 250.9,227.2 269.7,241.3 288.5,242.1 307.2,239.8 326.0,244.2 344.8,242.7 363.5,245.6 382.3,238.4 401.1,238.8 419.8,241.7 438.6,242.7 457.4,247.1 476.1,245.2 494.9,243.3 513.7,244.6 532.4,247.1 551.2,249.8 570.0,243.3 588.7,248.5 607.5,253.3" fill="none" stroke="#54b399" stroke-width="2" stroke-linejoin="round"/><polyline points="63.3,63.6 82.1,83.7 100.8,92.6 119.6,96.9 138.4,169.3 157.1,196.3 175.9,218.5 194.7,218.5 213.4,252.9 232.2,263.9 250.9,256.8 269.7,189.2 288.5,122.0 307.2,137.4 326.0,63.6 344.8,143.8 363.5,128.2 382.3,162.5 401.1,198.8 419.8,206.0 438.6,171.8 457.4,177.0 476.1,101.9 494.9,84.9 513.7,138.8 532.4,192.5 551.2,185.3 570.0,189.0 588.7,203.7 607.5,191.1 626.2,181.8" fill="none" stroke="#6092c0" stroke-width="2" stroke-linejoin="round"/><polyline points="63.3,265.9 82.1,267.8 100.8,268.4 119.6,266.8 138.4,263.0 157.1,257.7 175.9,266.8 194.7,268.2 213.4,268.4 232.2,268.9 250.9,268.9 269.7,268.4 288.5,268.9 307.2,268.8 326.0,265.3 344.8,257.2 363.5,265.5 382.3,268.4 401.1,268.8 419.8,268.8 438.6,267.8 457.4,267.8 476.1,269.1 494.9,268.4 513.7,268.4 532.4,257.7 551.2,266.4 570.0,267.8 588.7,268.9 607.5,268.2" fill="none" stroke="#d36086" stroke-width="2" stroke-linejoin="round"/><polyline points="63.3,204.2 82.1,203.9 100.8,204.6 119.6,203.5 138.4,204.6 157.1,204.6 175.9,204.2 194.7,204.1 213.4,204.8 232.2,203.7 250.9,204.4 269.7,204.1 288.5,204.8 307.2,203.7 326.0,204.8 344.8,205.2 363.5,206.0 382.3,204.2 401.1,205.0 419.8,205.0 438.6,205.0 457.4,205.0 476.1,205.0 494.9,203.9 513.7,205.8 532.4,205.4 551.2,204.6 570.0,205.4 588.7,205.0 607.5,203.7" fill="none" stroke="#9170b8" stroke-width="2" stroke-linejoin="round"/><polyline points="63.3,263.9 82.1,260.6 100.8,260.1 119.6,260.4 138.4,260.6 157.1,261.0 175.9,261.0 194.7,260.6 213.4,261.0 232.2,261.4 250.9,261.4 269.7,261.4 288.5,261.0 307.2,261.4 326.0,261.0 344.8,260.6 363.5,260.3 382.3,259.7 401.1,259.1 419.8,260.6 438.6,261.4 457.4,261.4 476.1,261.4 494.9,261.0 513.7,261.0 532.4,261.4 551.2,261.0 570.0,259.5 588.7,259.5 607.5,261.4 626.2,259.1" fill="none" stroke="#ca8eae" stroke-width="2" stroke-linejoin="round"/><polyline points="63.3,232.1 82.1,251.4 100.8,259.1 119.6,256.6 138.4,259.1 157.1,231.5 175.9,238.8 194.7,223.4 213.4,242.7 232.2,245.2 250.9,258.5 269.7,252.9 288.5,233.6 307.2,238.8 326.0,249.8 344.8,263.0 363.5,257.2 382.3,256.2 401.1,267.4 419.8,214.3 438.6,242.7 457.4,235.0 476.1,217.6 494.9,242.7 513.7,243.3 532.4,233.6 551.2,250.4 570.0,223.9 588.7,222.4 607.5,233.0" fill="none" stroke="#d6bf57" stroke-width="2" stroke-linejoin="round"/><polyline points="63.3,234.0 82.1,238.8 100.8,238.2 119.6,239.4 138.4,242.1 157.1,242.7 175.9,210.8 194.7,186.1 213.4,173.2 232.2,195.4 250.9,214.7 269.7,225.1 288.5,226.3 307.2,225.3 326.0,228.6 344.8,230.1 363.5,233.0 382.3,233.4 401.1,233.0 419.8,232.6 438.6,231.1 457.4,226.3 476.1,187.6 494.9,152.3 513.7,160.6 532.4,203.1 551.2,225.3 570.0,226.3 588.7,230.7 607.5,233.0 626.2,235.0" fill="none" stroke="#b9a888" stroke-width="2" stroke-linejoin="round"/><polyline points="63.3,256.2 82.1,258.1 100.8,259.1 119.6,260.1 138.4,182.8 157.1,244.6 175.9,151.9 194.7,117.1 213.4,141.3 232.2,177.0 250.9,176.0 269.7,201.3 288.5,223.4 307.2,245.2 326.0,252.9 344.8,256.6 363.5,257.2 382.3,259.1 401.1,260.4 419.8,260.4 438.6,260.1 457.4,211.8 476.1,139.4 494.9,114.6 513.7,160.6 532.4,170.8 551.2,246.2 570.0,253.7 588.7,259.1 607.5,258.7 626.2,260.4" fill="none" stroke="#da8b45" stroke-width="2" stroke-linejoin="round"/><polyline points="63.3,256.6 82.1,261.0 100.8,261.0 119.6,260.4 138.4,260.6 157.1,261.0 175.9,260.4 194.7,260.4 213.4,261.4 232.2,261.0 250.9,260.6 269.7,261.0 288.5,262.0 307.2,261.0 326.0,261.4 344.8,261.4 363.5,261.0 382.3,260.6 401.1,261.0 419.8,260.6 438.6,260.1 457.4,261.0 476.1,261.0 494.9,259.5 513.7,261.0 532.4,260.6 551.2,261.0 570.0,260.6 588.7,260.6 607.5,260.1 626.2,257.7" fill="none" stroke="#aa6556" stroke-width="2" stroke-linejoin="round"/><polyline points="63.3,155.2 82.1,149.4 100.8,120.4 119.6,155.8 138.4,161.2 157.1,164.1 175.9,163.5 194.7,165.4 213.4,164.1 232.2,166.8 250.9,166.8 269.7,159.4 288.5,140.9 307.2,139.0 326.0,150.6 344.8,157.9 363.5,161.8 382.3,162.7 401.1,163.7 419.8,164.7 438.6,164.5 457.4,162.5 476.1,161.2 494.9,131.0 513.7,154.8 532.4,155.8 551.2,152.9 570.0,160.6 588.7,160.6 607.5,165.0 626.2,159.6" fill="none" stroke="#e7664c" stroke-width="2" stroke-linejoin="round"/></svg>
<div class="yl" style="left:13.0px;top:1336.3px">0%</div>
<div class="yl" style="left:13.0px;top:1289.4px">20%</div>
<div class="yl" style="left:13.0px;top:1242.4px">40%</div>
<div class="yl" style="left:13.0px;top:1195.4px">60%</div>
<div class="yl" style="left:13.0px;top:1148.5px">80%</div>
<div class="yl" style="left:13.0px;top:1101.5px">100%</div>
<div class="xl" style="left:78.1px;top:1345.200px">12:05</div>
<div class="xl" style="left:134.6px;top:1345.200px">12:10</div>
<div class="xl" style="left:322.2px;top:1345.200px">12:15</div>
<div class="xl" style="left:509.9px;top:1345.200px">12:20</div>
<div class="xl" style="left:78.1px;top:1355.200px">May 10, 2024</div>
<div class="panel" style="left:685.0px"></div>
<div class="ptitle" style="left:694.4px">Normalized Load</div>
<svg class="abs" style="left:685.0px;top:1060px" width="664" height="325" viewBox="0 0 664 325"><path d="M64.8 282.85H644.5" stroke="#e6e9f1" stroke-width="1" stroke-dasharray="4 4"/><path d="M64.8 235.88H644.5" stroke="#e6e9f1" stroke-width="1" stroke-dasharray="4 4"/><path d="M64.8 188.91H644.5" stroke="#e6e9f1" stroke-width="1" stroke-dasharray="4 4"/><path d="M64.8 141.94H644.5" stroke="#e6e9f1" stroke-width="1" stroke-dasharray="4 4"/><path d="M64.8 94.97H644.5" stroke="#e6e9f1" stroke-width="1" stroke-dasharray="4 4"/><path d="M64.8 48.00H644.5" stroke="#e6e9f1" stroke-width="1" stroke-dasharray="4 4"/><path d="M63.3 48.0V282.8" stroke="#eceff5" stroke-width="1"/><path d="M119.59 48.0V294.800" stroke="#bdbdbd" stroke-width="1.3"/><path d="M307.25 48.0V294.800" stroke="#9a9a9a" stroke-width="2.0"/><path d="M494.90 48.0V294.800" stroke="#c6c6c6" stroke-width="1.4"/><path d="M63.3 188.91H644.5" stroke="#98a2b3" stroke-width="1.600"/><polyline points="63.3,263.5 82.1,255.2 100.8,240.4 119.6,251.0 138.4,249.1 157.1,253.9 175.9,257.5 194.7,255.8 213.4,264.3 232.2,255.8 250.9,246.0 269.7,243.1 288.5,244.0 307.2,243.6 326.0,256.6 344.8,263.0 363.5,265.3 382.3,265.3 401.1,268.8 419.8,269.7 438.6,261.0 457.4,263.5 476.1,263.5 494.9,265.3 513.7,262.6 532.4,264.9 551.2,268.8 570.0,271.3 588.7,254.3 607.5,262.4" fill="none" stroke="#54b399" stroke-width="2" stroke-linejoin="round"/><polyline points="63.3,141.3 82.1,137.4 100.8,126.2 119.6,138.4 138.4,150.0 157.1,181.8 175.9,214.7 194.7,225.3 213.4,235.0 232.2,254.3 250.9,261.4 269.7,222.0 288.5,202.1 307.2,187.6 326.0,151.5 344.8,149.0 363.5,125.4 382.3,114.2 401.1,155.2 419.8,199.2 438.6,220.1 457.4,226.3 476.1,210.4 494.9,152.5 513.7,128.7 532.4,150.0 551.2,177.6 570.0,184.7 588.7,213.1 607.5,229.5 626.2,240.2" fill="none" stroke="#6092c0" stroke-width="2" stroke-linejoin="round"/><polyline points="63.3,257.7 82.1,252.7 100.8,256.2 119.6,261.0 138.4,267.8 157.1,257.7 175.9,252.3 194.7,255.8 213.4,259.1 232.2,262.0 250.9,268.8 269.7,273.2 288.5,269.1 307.2,274.9 326.0,267.8 344.8,262.6 363.5,248.5 382.3,252.9 401.1,263.0 419.8,266.8 438.6,271.3 457.4,275.5 476.1,277.8 494.9,278.4 513.7,280.3 532.4,279.4 551.2,270.7 570.0,271.1 588.7,275.9 607.5,276.5" fill="none" stroke="#d36086" stroke-width="2" stroke-linejoin="round"/><polyline points="63.3,259.1 82.1,259.1 100.8,258.1 119.6,258.5 138.4,257.2 157.1,253.9 175.9,254.3 194.7,255.2 213.4,254.3 232.2,251.0 250.9,252.9 269.7,254.8 288.5,253.3 307.2,249.4 326.0,249.8 344.8,253.3 363.5,254.8 382.3,255.8 401.1,258.1 419.8,258.5 438.6,256.8 457.4,256.2 476.1,254.3 494.9,252.7 513.7,255.2 532.4,255.2 551.2,256.2 570.0,256.6 588.7,257.7 607.5,257.2" fill="none" stroke="#9170b8" stroke-width="2" stroke-linejoin="round"/><polyline points="63.3,275.5 82.1,278.0 100.8,276.5 119.6,273.6 138.4,274.0 157.1,274.2 175.9,276.5 194.7,278.8 213.4,280.3 232.2,280.3 250.9,281.3 269.7,281.7 288.5,280.7 307.2,279.8 326.0,279.4 344.8,276.5 363.5,277.4 382.3,277.4 401.1,278.4 419.8,280.7 438.6,276.5 457.4,266.4 476.1,271.6 494.9,273.0 513.7,270.7 532.4,271.6 551.2,275.1 570.0,273.0 588.7,276.1 607.5,279.4 626.2,280.5" fill="none" stroke="#ca8eae" stroke-width="2" stroke-linejoin="round"/><polyline points="63.3,257.5 82.1,259.5 100.8,263.0 119.6,256.2 138.4,245.2 157.1,229.5 175.9,228.6 194.7,240.7 213.4,242.3 232.2,226.6 250.9,232.6 269.7,232.4 288.5,232.6 307.2,221.4 326.0,226.8 344.8,239.4 363.5,246.5 382.3,250.0 401.1,248.5 419.8,234.4 438.6,244.2 457.4,252.7 476.1,251.9 494.9,248.5 513.7,250.0 532.4,241.7 551.2,246.2 570.0,241.7 588.7,216.6 607.5,231.7" fill="none" stroke="#d6bf57" stroke-width="2" stroke-linejoin="round"/><polyline points="63.3,277.4 82.1,279.4 100.8,275.1 119.6,261.0 138.4,224.3 157.1,204.6 175.9,204.1 194.7,183.8 213.4,156.7 232.2,147.1 250.9,147.7 269.7,178.0 288.5,188.6 307.2,193.8 326.0,163.5 344.8,124.9 363.5,136.5 382.3,143.8 401.1,152.9 419.8,173.2 438.6,216.6 457.4,233.0 476.1,222.4 494.9,187.6 513.7,157.7 532.4,184.7 551.2,222.0 570.0,244.2 588.7,259.1 607.5,269.3 626.2,273.6" fill="none" stroke="#b9a888" stroke-width="2" stroke-linejoin="round"/><polyline points="63.3,183.4 82.1,193.8 100.8,199.6 119.6,178.0 138.4,164.5 157.1,161.0 175.9,129.7 194.7,103.0 213.4,85.7 232.2,81.4 250.9,92.4 269.7,108.5 288.5,160.6 307.2,178.4 326.0,219.5 344.8,240.2 363.5,251.0 382.3,255.2 401.1,252.9 419.8,260.1 438.6,268.8 457.4,269.7 476.1,224.3 494.9,202.7 513.7,194.4 532.4,189.0 551.2,199.6 570.0,222.0 588.7,243.6 607.5,259.1 626.2,265.9" fill="none" stroke="#da8b45" stroke-width="2" stroke-linejoin="round"/><polyline points="63.3,280.9 82.1,281.7 100.8,282.3 119.6,282.7 138.4,281.3 157.1,281.1 175.9,277.6 194.7,278.8 213.4,280.3 232.2,278.8 250.9,280.3 269.7,281.5 288.5,281.5 307.2,280.9 326.0,281.9 344.8,281.3 363.5,269.7 382.3,258.1 401.1,251.0 419.8,248.1 438.6,252.3 457.4,258.7 476.1,262.2 494.9,264.5 513.7,266.8 532.4,263.3 551.2,251.0 570.0,256.2 588.7,261.0 607.5,265.3 626.2,262.0" fill="none" stroke="#aa6556" stroke-width="2" stroke-linejoin="round"/><polyline points="63.3,167.5 82.1,161.6 100.8,136.5 119.6,150.4 138.4,174.7 157.1,177.0 175.9,182.2 194.7,180.9 213.4,187.6 232.2,192.5 250.9,196.3 269.7,195.0 288.5,203.1 307.2,197.3 326.0,203.1 344.8,198.3 363.5,193.4 382.3,196.9 401.1,203.7 419.8,199.8 438.6,203.1 457.4,202.5 476.1,207.3 494.9,199.6 513.7,188.0 532.4,185.1 551.2,178.6 570.0,184.4 588.7,199.2 607.5,203.7" fill="none" stroke="#e7664c" stroke-width="2" stroke-linejoin="round"/></svg>
<div class="yl" style="left:685.0px;top:1336.3px">0%</div>
<div class="yl" style="left:685.0px;top:1289.4px">50%</div>
<div class="yl" style="left:685.0px;top:1242.4px">100%</div>
<div class="yl" style="left:685.0px;top:1195.4px">150%</div>
<div class="yl" style="left:685.0px;top:1148.5px">200%</div>
<div class="yl" style="left:685.0px;top:1101.5px">250%</div>
<div class="xl" style="left:750.1px;top:1345.200px">12:05</div>
<div class="xl" style="left:806.6px;top:1345.200px">12:10</div>
<div class="xl" style="left:994.2px;top:1345.200px">12:15</div>
<div class="xl" style="left:1181.9px;top:1345.200px">12:20</div>
<div class="xl" style="left:750.1px;top:1355.200px">May 10, 2024</div>
<div class="panel" style="left:13px;top:1394px;height:40px"></div>
<div class="panel" style="left:685px;top:1394px;height:40px"></div>
</div></body>
</html>
